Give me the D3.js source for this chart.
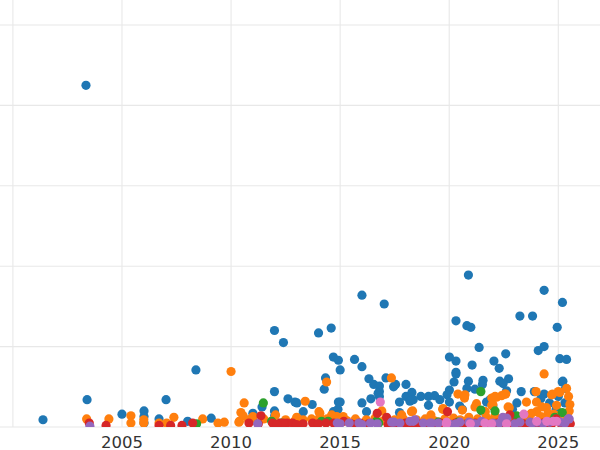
<!DOCTYPE html>
<html>
<head>
<meta charset="utf-8">
<script src="https://cdnjs.cloudflare.com/ajax/libs/d3/7.8.5/d3.min.js"></script>
<style>
  body { margin: 0; background: #fff; }
  .tick-label { font-family: "DejaVu Sans", sans-serif; font-size: 16.5px; fill: #333; }
</style>
</head>
<body>
<svg id="chart"></svg>
<script>
// data: [year, value] per group
var blueSeries = [
    [2001.38, 9], [2003.35, 425], [2003.40, 34], [2005.00, 16], [2006.01, 20], [2006.01, 13],
    [2006.01, 5], [2007.02, 34], [2006.70, 10], [2008.01, 7], [2008.39, 71], [2009.09, 11],
    [2011.99, 120], [2012.40, 105], [2011.99, 44], [2012.61, 35], [2012.93, 31], [2013.02, 30],
    [2011.99, 20], [2011.42, 25], [2011.00, 17], [2014.01, 117], [2014.59, 123], [2014.69, 87],
    [2014.92, 83], [2015.00, 71], [2014.33, 61], [2014.27, 47], [2013.72, 28], [2013.31, 19],
    [2014.92, 31], [2014.69, 19], [2014.90, 22], [2015.66, 84], [2016.00, 164], [2017.02, 153],
    [2020.31, 132], [2016.00, 75], [2016.32, 60], [2016.54, 53], [2016.80, 51], [2017.10, 61],
    [2017.45, 50], [2017.54, 53], [2018.02, 53], [2016.80, 44], [2016.41, 35], [2016.00, 30],
    [2016.80, 38], [2017.72, 31], [2018.02, 38], [2018.29, 43], [2018.35, 34], [2018.70, 38],
    [2019.05, 38], [2019.33, 39], [2019.57, 34], [2019.05, 27], [2020.01, 87], [2020.31, 82],
    [2020.31, 68], [2020.22, 56], [2020.01, 46], [2019.90, 40], [2020.01, 31], [2017.72, 18],
    [2016.21, 19], [2018.20, 32], [2020.48, 26], [2020.88, 189], [2024.35, 170], [2025.19, 155],
    [2020.81, 126], [2020.99, 124], [2023.24, 138], [2023.82, 138], [2024.95, 124], [2021.37, 99],
    [2022.59, 91], [2024.08, 95], [2024.35, 100], [2025.07, 85], [2025.38, 84], [2022.05, 82],
    [2022.29, 73], [2021.05, 77], [2020.31, 66], [2020.88, 57], [2021.55, 58], [2021.52, 53],
    [2022.32, 57], [2022.72, 60], [2022.47, 54], [2025.21, 57], [2025.33, 48], [2023.30, 44],
    [2023.90, 44], [2024.35, 41], [2020.81, 48], [2021.18, 47], [2021.71, 31], [2022.63, 45],
    [2021.87, 34], [2015.00, 31], [2016.74, 42], [2025.18, 56], [2024.20, 35], [2024.60, 30],
    [2025.00, 38], [2025.30, 30], [2023.10, 30], [2022.00, 26], [2021.50, 20], [2020.60, 22],
    [2022.90, 22], [2024.90, 22], [2011.00, 12], [2012.00, 14]
];
var orangeSeries = [
    [2003.38, 10], [2004.40, 10], [2005.41, 14], [2005.41, 5], [2006.00, 9], [2006.00, 5],
    [2006.70, 5], [2007.05, 5], [2007.38, 12], [2008.70, 10], [2009.40, 5], [2009.69, 6],
    [2010.00, 69], [2010.38, 7], [2010.60, 30], [2010.45, 18], [2010.55, 14], [2011.00, 13],
    [2010.98, 8], [2012.04, 15], [2013.40, 32], [2013.01, 12], [2014.03, 19], [2014.38, 56],
    [2013.69, 10], [2014.07, 12], [2014.84, 13], [2010.36, 6], [2013.01, 11], [2017.35, 61],
    [2020.40, 41], [2020.70, 36], [2021.25, 29], [2023.98, 44], [2024.00, 31], [2024.74, 41],
    [2025.07, 43], [2025.38, 48], [2025.47, 38], [2025.53, 28], [2024.92, 27], [2018.32, 20],
    [2021.95, 36], [2022.17, 37], [2022.40, 39], [2022.59, 41], [2022.00, 28], [2022.75, 24],
    [2024.46, 24], [2024.53, 17], [2024.00, 19], [2019.72, 23], [2020.60, 21], [2021.18, 25],
    [2021.65, 19], [2016.91, 20], [2024.35, 66], [2018.27, 19], [2019.16, 15], [2019.70, 22],
    [2017.82, 15], [2014.61, 15], [2015.14, 13], [2014.07, 17], [2023.54, 31], [2024.24, 25],
    [2024.69, 40], [2025.00, 44], [2022.10, 38], [2022.55, 41], [2021.95, 27], [2021.63, 19],
    [2020.72, 40], [2022.70, 25], [2023.77, 17],
    [2010.80, 9], [2011.50, 10], [2011.90, 8], [2012.50, 9], [2012.90, 7], [2013.30, 9],
    [2013.80, 8], [2014.40, 10], [2014.90, 9], [2015.30, 8], [2015.70, 10], [2016.20, 9],
    [2016.60, 11], [2017.00, 8], [2017.50, 9], [2017.90, 10], [2018.50, 9], [2018.90, 10],
    [2019.30, 8], [2019.80, 10], [2020.20, 11], [2020.50, 9], [2020.90, 12], [2021.30, 10],
    [2021.70, 12], [2022.10, 14], [2022.50, 11], [2022.90, 13], [2023.30, 12], [2023.70, 15],
    [2024.20, 13], [2024.60, 12], [2025.00, 14], [2025.40, 12], [2025.50, 20], [2023.50, 9],
    [2024.80, 16], [2021.90, 8], [2020.70, 7], [2019.50, 6]
];
var greenSeries = [
    [2008.42, 4], [2011.48, 30], [2011.86, 7], [2014.15, 7], [2014.45, 7], [2016.67, 7],
    [2016.77, 5], [2021.45, 44], [2021.45, 21], [2022.10, 20], [2025.18, 18], [2023.09, 14],
    [2024.84, 12], [2018.30, 5], [2019.50, 6], [2020.40, 6], [2012.30, 5]
];
var redSeries = [
    [2003.50, 5], [2004.27, 2], [2006.70, 2], [2007.23, 2], [2007.75, 2], [2008.24, 5],
    [2010.82, 5], [2011.37, 14], [2012.24, 5], [2011.90, 5], [2012.57, 5], [2012.82, 5],
    [2013.74, 5], [2014.35, 5], [2015.17, 7], [2015.91, 5], [2016.70, 17], [2017.13, 12],
    [2019.92, 19], [2011.25, 4], [2012.40, 5], [2013.30, 4], [2014.00, 4], [2014.70, 5],
    [2015.50, 4], [2016.30, 4], [2017.50, 4], [2018.00, 5], [2018.60, 4], [2019.10, 4],
    [2019.60, 5], [2020.30, 5], [2020.80, 4], [2021.20, 5], [2021.70, 4], [2022.20, 5],
    [2022.60, 6], [2023.00, 5], [2023.40, 4], [2023.90, 5], [2024.30, 5], [2024.70, 4],
    [2025.10, 5], [2025.40, 6], [2025.55, 4], [2022.78, 15], [2024.90, 10],
    [2020.10, 3], [2020.60, 3], [2021.00, 3], [2021.45, 3], [2021.90, 3], [2022.40, 3],
    [2022.80, 3], [2023.20, 3], [2023.60, 3], [2024.10, 3], [2024.50, 3], [2025.25, 3],
    [2019.35, 3], [2018.85, 3], [2018.30, 3], [2017.80, 3], [2017.20, 3], [2016.00, 3],
    [2015.70, 3], [2013.00, 3], [2012.10, 3]
];
var purpleSeries = [
    [2003.53, 1], [2011.22, 4], [2014.87, 5], [2015.42, 5], [2015.86, 5], [2016.39, 5],
    [2015.00, 4], [2017.47, 6], [2017.74, 5], [2018.20, 7], [2018.43, 9], [2018.81, 5],
    [2019.20, 5], [2019.50, 5], [2017.36, 6], [2018.35, 7], [2019.12, 5], [2020.49, 6],
    [2021.48, 7], [2022.64, 11], [2023.24, 6], [2024.01, 6], [2025.50, 10], [2024.60, 6],
    [2023.70, 6], [2021.00, 5], [2022.00, 5], [2025.10, 6], [2020.00, 4], [2016.00, 3],
    [2016.70, 4], [2022.46, 12], [2023.80, 5], [2025.45, 10], [2020.90, 6],
    [2023.00, 4], [2022.30, 5], [2024.30, 4], [2025.30, 5], [2021.20, 4], [2020.30, 4]
];
var pinkSeries = [
    [2016.84, 31], [2023.42, 16], [2019.87, 4], [2020.97, 4], [2021.64, 5], [2021.94, 4],
    [2022.63, 4], [2024.01, 7], [2024.47, 7], [2024.77, 7], [2024.92, 7], [2019.88, 6]
];
var groupColors = ['#1f77b4', '#ff7f0e', '#2ca02c', '#d62728', '#9467bd', '#e377c2'];
var xTicks = [2000, 2005, 2010, 2015, 2020, 2025];
var xLabels = ['2005', '2010', '2015', '2020', '2025'];
var yGrid = [0, 100, 200, 300, 400, 500];

var width = 600, height = 450;
var plotBottom = 427;

var svg = d3.select('#chart')
    .attr('width', width)
    .attr('height', height);

svg.append('rect')
    .attr('width', width)
    .attr('height', height)
    .attr('fill', '#fff');

var xScale = d3.scaleLinear()
    .domain([2000, 2025])
    .range([12.9, 558.3]);
var yScale = d3.scaleLinear()
    .domain([0, 500])
    .range([plotBottom, 25]);

// grid
svg.append('g')
    .selectAll('line')
    .data(xTicks)
    .enter().append('line')
    .attr('x1', d => xScale(d)).attr('x2', d => xScale(d))
    .attr('y1', 0).attr('y2', plotBottom)
    .attr('stroke', '#e8e8e8')
    .attr('stroke-width', 1.1);
svg.append('g')
    .selectAll('line')
    .data(yGrid)
    .enter().append('line')
    .attr('x1', 0).attr('x2', width)
    .attr('y1', d => yScale(d)).attr('y2', d => yScale(d))
    .attr('stroke', '#e8e8e8')
    .attr('stroke-width', 1.1);

// clip points at the bottom of the axes
svg.append('clipPath')
    .attr('id', 'plot-clip')
    .append('rect')
    .attr('x', 0).attr('y', 0)
    .attr('width', width).attr('height', plotBottom);

var dots = svg.append('g').attr('clip-path', 'url(#plot-clip)');
var allSeries = [blueSeries, orangeSeries, greenSeries, redSeries, purpleSeries, pinkSeries];
allSeries.forEach((series, i) => {
    dots.append('g')
        .selectAll('circle')
        .data(series)
        .enter().append('circle')
        .attr('cx', d => xScale(d[0]))
        .attr('cy', d => yScale(d[1]))
        .attr('r', 4.6)
        .attr('fill', groupColors[i]);
});

// x labels
svg.append('g')
    .selectAll('text')
    .data(xLabels)
    .enter().append('text')
    .attr('class', 'tick-label')
    .attr('x', d => xScale(+d))
    .attr('y', 447.5)
    .attr('text-anchor', 'middle')
    .text(d => d);
</script>
</body>
</html>
